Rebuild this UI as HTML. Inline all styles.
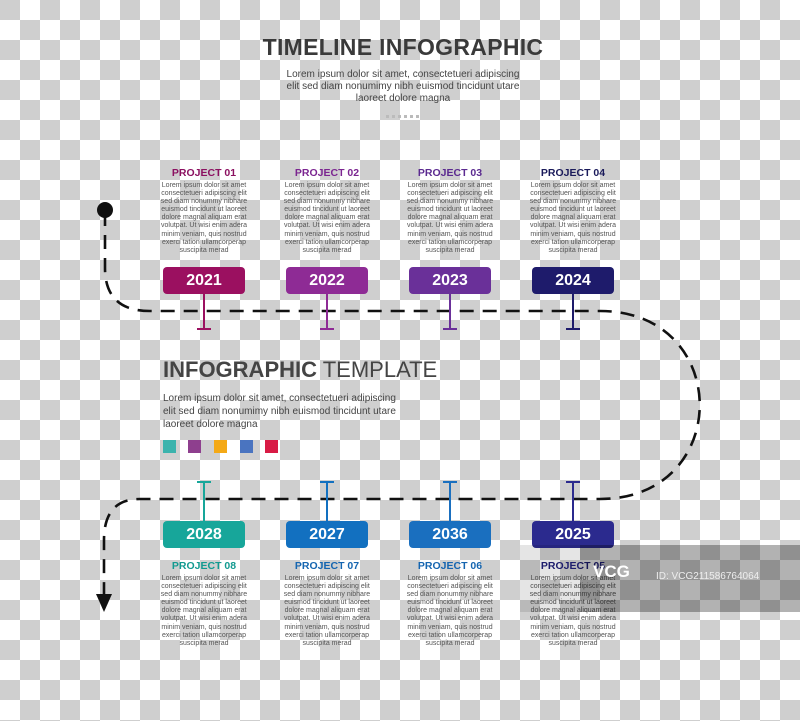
<!DOCTYPE html>
<html><head><meta charset="utf-8"><style>
html,body{margin:0;padding:0}
body{width:800px;height:721px;position:relative;overflow:hidden;
background:repeating-conic-gradient(#fff 0 25%,#cfcfcf 0 50%) 0 0/40px 40px;
font-family:"Liberation Sans",sans-serif}
.a{position:absolute}
.title{left:0;width:806px;top:34px;text-align:center;font-size:23px;font-weight:bold;color:#3a3a3a;letter-spacing:0.3px}
.sub{left:0;width:806px;top:69px;text-align:center;font-size:10px;line-height:12px;color:#444}
.pt{width:120px;text-align:center;font-size:10.5px;font-weight:bold}
.par{width:90px;text-align:center;font-size:7px;line-height:8.1px;color:#555}
.box{width:82px;height:27px;border-radius:4px;color:#fff;font-weight:bold;font-size:16px;line-height:27px;text-align:center}
.mid{left:163px;top:357px;font-size:22px;color:#444}
.mp{left:163px;top:392px;font-size:10px;line-height:13px;color:#444}
.sq{width:13px;height:13px;top:440px}
</style></head><body>
<div class="a title">TIMELINE INFOGRAPHIC</div>
<div class="a sub">Lorem ipsum dolor sit amet, consectetueri adipiscing<br>elit sed diam nonumimy nibh euismod tincidunt utare<br>laoreet dolore magna</div>
<div class="a" style="left:386px;top:115px;width:34px;height:3px;background:repeating-linear-gradient(90deg,#bbb 0 3px,transparent 3px 6px)"></div>

<svg class="a" style="left:0;top:0" width="800" height="721">
<g fill="none" stroke="#111" stroke-width="2.6" stroke-dasharray="14 9">
<path d="M105 212 L105 268 Q105 311 150 311 L600 311 C733 311 733 499 600 499 L140 499 Q104 499 104 540 L104 598"/>
</g>
<circle cx="105" cy="210" r="8" fill="#111"/>
<path d="M96 594 L112 594 L104 612 Z" fill="#111"/>
<g stroke-width="2">
<path d="M204 293V329M197 329H211" stroke="#9b1060"/>
<path d="M327 293V329M320 329H334" stroke="#8e2b95"/>
<path d="M450 293V329M443 329H457" stroke="#6a3099"/>
<path d="M573 293V329M566 329H580" stroke="#1e1b6b"/>
<path d="M204 482V521M197 482H211" stroke="#17a69a"/>
<path d="M327 482V521M320 482H334" stroke="#1270c0"/>
<path d="M450 482V521M443 482H457" stroke="#1a6fbf"/>
<path d="M573 482V521M566 482H580" stroke="#2b2a8e"/>
</g>
</svg>

<div class="a pt" style="left:144px;top:167px;color:#8b1060">PROJECT 01</div>
<div class="a pt" style="left:267px;top:167px;color:#7b2590">PROJECT 02</div>
<div class="a pt" style="left:390px;top:167px;color:#5b2a90">PROJECT 03</div>
<div class="a pt" style="left:513px;top:167px;color:#1a1a5a">PROJECT 04</div>

<div class="a par" style="left:159px;top:182px">Lorem ipsum dolor sit amet consectetueri adipiscing elit sed diam nonummy nibhare euismod tincidunt ut laoreet dolore magnal aliquam erat volutpat. Ut wisi enim adera minim veniam, quis nostrud exerci tation ullamcorperap suscipita merad</div>
<div class="a par" style="left:282px;top:182px">Lorem ipsum dolor sit amet consectetueri adipiscing elit sed diam nonummy nibhare euismod tincidunt ut laoreet dolore magnal aliquam erat volutpat. Ut wisi enim adera minim veniam, quis nostrud exerci tation ullamcorperap suscipita merad</div>
<div class="a par" style="left:405px;top:182px">Lorem ipsum dolor sit amet consectetueri adipiscing elit sed diam nonummy nibhare euismod tincidunt ut laoreet dolore magnal aliquam erat volutpat. Ut wisi enim adera minim veniam, quis nostrud exerci tation ullamcorperap suscipita merad</div>
<div class="a par" style="left:528px;top:182px">Lorem ipsum dolor sit amet consectetueri adipiscing elit sed diam nonummy nibhare euismod tincidunt ut laoreet dolore magnal aliquam erat volutpat. Ut wisi enim adera minim veniam, quis nostrud exerci tation ullamcorperap suscipita merad</div>

<div class="a box" style="left:163px;top:267px;background:#9b1060">2021</div>
<div class="a box" style="left:286px;top:267px;background:#8e2b95">2022</div>
<div class="a box" style="left:409px;top:267px;background:#6a3099">2023</div>
<div class="a box" style="left:532px;top:267px;background:#1e1b6b">2024</div>

<div class="a mid"><b>INFOGRAPHIC</b> TEMPLATE</div>
<div class="a mp">Lorem ipsum dolor sit amet, consectetueri adipiscing<br>elit sed diam nonumimy nibh euismod tincidunt utare<br>laoreet dolore magna</div>
<div class="a sq" style="left:163px;background:#3bb3ad"></div>
<div class="a sq" style="left:188px;background:#8e3f8e"></div>
<div class="a sq" style="left:214px;background:#f4a916"></div>
<div class="a sq" style="left:240px;background:#4a74c0"></div>
<div class="a sq" style="left:265px;background:#d81b45"></div>

<div class="a box" style="left:163px;top:521px;background:#17a69a">2028</div>
<div class="a box" style="left:286px;top:521px;background:#1270c0">2027</div>
<div class="a box" style="left:409px;top:521px;background:#1a6fbf">2036</div>
<div class="a box" style="left:532px;top:521px;background:#2b2a8e">2025</div>

<div class="a pt" style="left:144px;top:560px;color:#129a90">PROJECT 08</div>
<div class="a pt" style="left:267px;top:560px;color:#1565b0">PROJECT 07</div>
<div class="a pt" style="left:390px;top:560px;color:#1565b0">PROJECT 06</div>
<div class="a pt" style="left:513px;top:560px;color:#22227a">PROJECT 05</div>

<div class="a par" style="left:159px;top:575px">Lorem ipsum dolor sit amet consectetueri adipiscing elit sed diam nonummy nibhare euismod tincidunt ut laoreet dolore magnal aliquam erat volutpat. Ut wisi enim adera minim veniam, quis nostrud exerci tation ullamcorperap suscipita merad</div>
<div class="a par" style="left:282px;top:575px">Lorem ipsum dolor sit amet consectetueri adipiscing elit sed diam nonummy nibhare euismod tincidunt ut laoreet dolore magnal aliquam erat volutpat. Ut wisi enim adera minim veniam, quis nostrud exerci tation ullamcorperap suscipita merad</div>
<div class="a par" style="left:405px;top:575px">Lorem ipsum dolor sit amet consectetueri adipiscing elit sed diam nonummy nibhare euismod tincidunt ut laoreet dolore magnal aliquam erat volutpat. Ut wisi enim adera minim veniam, quis nostrud exerci tation ullamcorperap suscipita merad</div>
<div class="a par" style="left:528px;top:575px">Lorem ipsum dolor sit amet consectetueri adipiscing elit sed diam nonummy nibhare euismod tincidunt ut laoreet dolore magnal aliquam erat volutpat. Ut wisi enim adera minim veniam, quis nostrud exerci tation ullamcorperap suscipita merad</div>

<div class="a" style="left:520px;top:545px;width:60px;height:67px;background:rgba(0,0,0,0.1)"></div>
<div class="a" style="left:580px;top:545px;width:220px;height:67px;background:rgba(0,0,0,0.3)"></div>
<div class="a" style="left:593px;top:562px;font-size:17px;font-weight:bold;color:#fff">VCG</div>
<div class="a" style="left:656px;top:571px;font-size:10px;color:#eee">ID: VCG211586764064</div>
</body></html>
